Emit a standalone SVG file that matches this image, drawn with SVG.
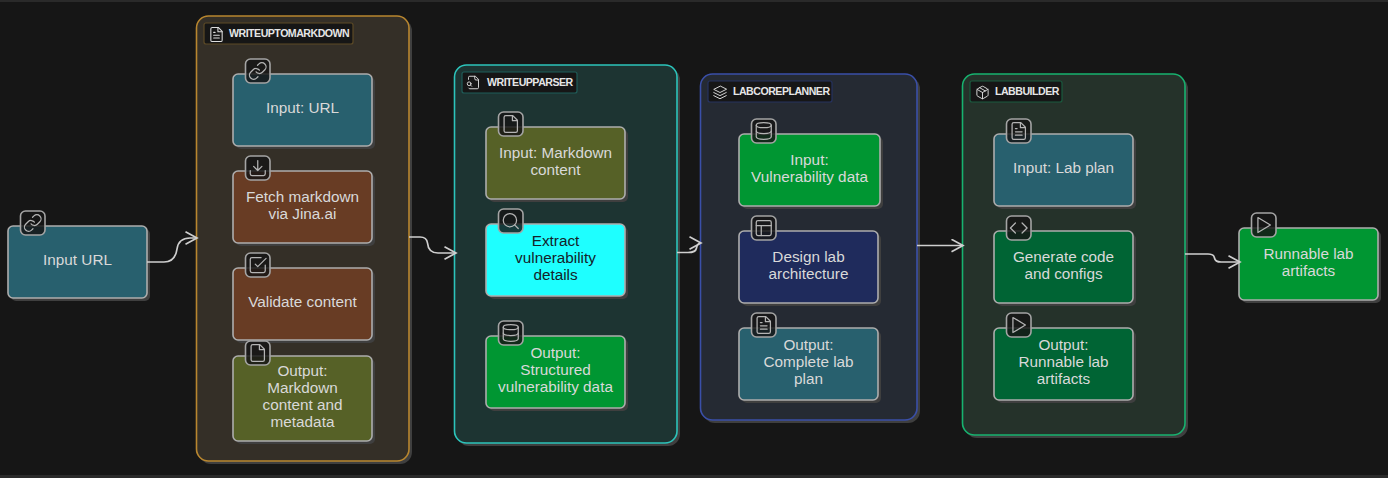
<svg xmlns="http://www.w3.org/2000/svg" xmlns:xlink="http://www.w3.org/1999/xlink" width="1388" height="478" viewBox="0 0 1388 478">
<style>
text{font-family:"Liberation Sans",Arial,sans-serif}
.t{font-size:15.3px;fill:#d9d9d9;text-anchor:middle}
.d{fill:#14232a}
.gl{font-size:10.6px;font-weight:700;fill:#e6e6e6;letter-spacing:-.5px}
.n{stroke:#adadad;stroke-width:1.6}
.s{fill:#3f3f3f}
.b{fill:#161616;fill-opacity:.84;stroke:#a4a4a4;stroke-width:1.6}
.i{fill:none;stroke:#b4b4b4;stroke-width:1.5;stroke-linecap:round;stroke-linejoin:round}
.gi{fill:none;stroke:#dedede;stroke-width:1.5;stroke-linecap:round;stroke-linejoin:round}
.c{fill:none;stroke:#cfcfcf;stroke-width:1.7}
.teal{fill:#28606e}.brown{fill:#683c24}.olive{fill:#566127}.cyan{fill:#1effff}.green{fill:#009632}.navy{fill:#1f2b5c}.dg{fill:#006434}
</style>
<defs>
<marker id="arrow" viewBox="0 0 14 14" refX="12.5" refY="7" markerWidth="14" markerHeight="14" markerUnits="userSpaceOnUse" orient="auto"><path d="M1 .8L12.5 7L1 13.2" fill="none" stroke="#cfcfcf" stroke-width="1.7"/></marker>
<symbol id="link" viewBox="0 0 24 24"><path d="M10 13a5 5 0 0 0 7.54.54l3-3a5 5 0 0 0-7.07-7.07l-1.72 1.71"/><path d="M14 11a5 5 0 0 0-7.54-.54l-3 3a5 5 0 0 0 7.07 7.07l1.71-1.71"/></symbol>
<symbol id="download" viewBox="0 0 24 24"><path d="M21 15v4a2 2 0 0 1-2 2H5a2 2 0 0 1-2-2v-4"/><path d="M7 10l5 5 5-5M12 15V3"/></symbol>
<symbol id="check" viewBox="0 0 24 24"><path d="M9 11l3 3L22 4"/><path d="M21 12v7a2 2 0 0 1-2 2H5a2 2 0 0 1-2-2V5a2 2 0 0 1 2-2h11"/></symbol>
<symbol id="file" viewBox="0 0 24 24"><path d="M14.5 2H6a2 2 0 0 0-2 2v16a2 2 0 0 0 2 2h12a2 2 0 0 0 2-2V7.500L14.500 2z"/><path d="M14 2v6h6"/></symbol>
<symbol id="filetext" viewBox="0 0 24 24"><path d="M14.5 2H6a2 2 0 0 0-2 2v16a2 2 0 0 0 2 2h12a2 2 0 0 0 2-2V7.500L14.500 2z"/><path d="M14 2v6h6M16 13H8M16 17H8M10 9H8"/></symbol>
<symbol id="search" viewBox="0 0 24 24"><circle cx="11" cy="11" r="8"/><path d="M21 21l-4.350-4.350"/></symbol>
<symbol id="db" viewBox="0 0 24 24"><ellipse cx="12" cy="5" rx="9" ry="3"/><path d="M21 12c0 1.660-4 3-9 3s-9-1.340-9-3"/><path d="M3 5v14c0 1.660 4 3 9 3s9-1.340 9-3V5"/></symbol>
<symbol id="layout" viewBox="0 0 24 24"><rect x="3" y="3" width="18" height="18" rx="2"/><path d="M3 9h18M9 21V9"/></symbol>
<symbol id="code" viewBox="0 0 24 24"><path d="M16 18l6-6-6-6M8 6l-6 6 6 6"/></symbol>
<symbol id="play" viewBox="0 0 24 24"><path d="M5 3l15 9-15 9z"/></symbol>
<symbol id="layers" viewBox="0 0 24 24"><path d="M12 2L2 7l10 5 10-5zM2 17l10 5 10-5M2 12l10 5 10-5"/></symbol>
<symbol id="box" viewBox="0 0 24 24"><path d="M21 8a2 2 0 0 0-1-1.730l-7-4a2 2 0 0 0-2 0l-7 4A2 2 0 0 0 3 8v8a2 2 0 0 0 1 1.730l7 4a2 2 0 0 0 2 0l7-4A2 2 0 0 0 21 16Z"/><path d="M3.300 7L12 12l8.700-5M12 22V12M7.500 4.300l9 5.200"/></symbol>
<symbol id="filesearch" viewBox="0 0 24 24"><path d="M14 2v4a2 2 0 0 0 2 2h4"/><path d="M4.300 21a2 2 0 0 0 1.700 1H18a2 2 0 0 0 2-2V7l-5-5H6a2 2 0 0 0-2 2v3"/><path d="M9 18l-1.500-1.500"/><circle cx="5" cy="14" r="3"/></symbol>
</defs>

<rect width="1388" height="478" fill="#161616"/>
<rect width="1388" height="2" fill="#2a2a2a"/>
<rect y="475" width="1388" height="3" fill="#2a2a2a"/>

<g id="group-writeuptomarkdown">
<rect class="s" x="199" y="19" width="213" height="445" rx="12"/>
<rect x="196.500" y="16" width="212.500" height="445" rx="12" fill="#342f27" stroke="#b8862f" stroke-width="1.6"/>
<rect x="204" y="23" width="149" height="21" rx="2" fill="#161616" stroke="#5c4a26" stroke-width="1.2"/>
<use href="#filetext" x="208" y="26" width="17" height="17" class="gi"/>
<text class="gl" x="229" y="37">WRITEUPTOMARKDOWN</text>
</g>
<g id="group-writeupparser">
<rect class="s" x="457" y="68" width="223" height="378" rx="12"/>
<rect x="454.500" y="65" width="222.500" height="378" rx="12" fill="#1d3432" stroke="#2cc4bb" stroke-width="1.6"/>
<rect x="462" y="72" width="115" height="21" rx="2" fill="#161616" stroke="#1f5c58" stroke-width="1.2"/>
<use href="#filesearch" x="466" y="75" width="15" height="15" class="gi"/>
<text class="gl" x="487" y="86">WRITEUPPARSER</text>
</g>
<g id="group-labcoreplanner">
<rect class="s" x="703" y="77" width="217" height="346" rx="12"/>
<rect x="700.500" y="74" width="216.500" height="346" rx="12" fill="#252a33" stroke="#3a4fa8" stroke-width="1.6"/>
<rect x="708" y="81" width="124" height="21" rx="2" fill="#161616" stroke="#26325f" stroke-width="1.2"/>
<use href="#layers" x="712.500" y="85" width="15" height="15" class="gi"/>
<text class="gl" x="733" y="95">LABCOREPLANNER</text>
</g>
<g id="group-labbuilder">
<rect class="s" x="965" y="77" width="223" height="361" rx="12"/>
<rect x="962.500" y="74" width="222.500" height="361" rx="12" fill="#25322a" stroke="#17b26f" stroke-width="1.6"/>
<rect x="970" y="81" width="92" height="21" rx="2" fill="#161616" stroke="#1a5a3e" stroke-width="1.2"/>
<use href="#box" x="975" y="85" width="15" height="15" class="gi"/>
<text class="gl" x="995" y="95">LABBUILDER</text>
</g>

<g id="input-url"><rect class="s" x="11" y="229" width="139" height="72" rx="5"/><rect class="n teal" x="8" y="226" width="139" height="72" rx="5"/><rect class="b" x="20.500" y="211" width="24.500" height="24" rx="5"/><use href="#link" x="22.750" y="213" width="20" height="20" class="i"/><text class="t" x="77.500" y="265">Input URL</text></g>

<g id="input-url-2"><rect class="s" x="236" y="77" width="139" height="72" rx="5"/><rect class="n teal" x="233" y="74" width="139" height="72" rx="5"/><rect class="b" x="245.500" y="59" width="24.500" height="24" rx="5"/><use href="#link" x="247.750" y="61" width="20" height="20" class="i"/><text class="t" x="302.500" y="113">Input: URL</text></g>
<g id="fetch-markdown"><rect class="s" x="236" y="174" width="139" height="72" rx="5"/><rect class="n brown" x="233" y="171" width="139" height="72" rx="5"/><rect class="b" x="245.500" y="156" width="24.500" height="24" rx="5"/><use href="#download" x="247.750" y="158" width="20" height="20" class="i"/><text class="t" x="302.500" y="202">Fetch markdown</text><text class="t" x="302.500" y="219">via Jina.ai</text></g>
<g id="validate-content"><rect class="s" x="236" y="271" width="139" height="72" rx="5"/><rect class="n brown" x="233" y="268" width="139" height="72" rx="5"/><rect class="b" x="245.500" y="253" width="24.500" height="24" rx="5"/><use href="#check" x="247.750" y="255" width="20" height="20" class="i"/><text class="t" x="302.500" y="307">Validate content</text></g>
<g id="output-markdown"><rect class="s" x="236" y="359" width="139" height="85" rx="5"/><rect class="n olive" x="233" y="356" width="139" height="85" rx="5"/><rect class="b" x="245.500" y="341" width="24.500" height="24" rx="5"/><use href="#file" x="247.750" y="343" width="20" height="20" class="i"/><text class="t" x="302.500" y="376">Output:</text><text class="t" x="302.500" y="393">Markdown</text><text class="t" x="302.500" y="410">content and</text><text class="t" x="302.500" y="427">metadata</text></g>

<g id="input-markdown"><rect class="s" x="489" y="130" width="139" height="72" rx="5"/><rect class="n olive" x="486" y="127" width="139" height="72" rx="5"/><rect class="b" x="498.500" y="112" width="24.500" height="24" rx="5"/><use href="#file" x="500.750" y="114" width="20" height="20" class="i"/><text class="t" x="555.500" y="158">Input: Markdown</text><text class="t" x="555.500" y="175">content</text></g>
<g id="extract-details"><rect class="s" x="489" y="227" width="139" height="72" rx="5"/><rect class="n cyan" x="486" y="224" width="139" height="72" rx="5"/><rect class="b" x="498.500" y="209" width="24.500" height="24" rx="5"/><use href="#search" x="500.750" y="211" width="20" height="20" class="i"/><text class="t d" x="555.500" y="246">Extract</text><text class="t d" x="555.500" y="263">vulnerability</text><text class="t d" x="555.500" y="280">details</text></g>
<g id="output-structured"><rect class="s" x="489" y="339" width="139" height="72" rx="5"/><rect class="n green" x="486" y="336" width="139" height="72" rx="5"/><rect class="b" x="498.500" y="321" width="24.500" height="24" rx="5"/><use href="#db" x="500.750" y="323" width="20" height="20" class="i"/><text class="t" x="555.500" y="358">Output:</text><text class="t" x="555.500" y="375">Structured</text><text class="t" x="555.500" y="392">vulnerability data</text></g>

<g id="input-vulnerability"><rect class="s" x="742" y="137" width="141" height="72" rx="5"/><rect class="n green" x="739" y="134" width="141" height="72" rx="5"/><rect class="b" x="751.500" y="119" width="24.500" height="24" rx="5"/><use href="#db" x="753.750" y="121" width="20" height="20" class="i"/><text class="t" x="809.500" y="165">Input:</text><text class="t" x="809.500" y="182">Vulnerability data</text></g>
<g id="design-architecture"><rect class="s" x="742" y="234" width="139" height="72" rx="5"/><rect class="n navy" x="739" y="231" width="139" height="72" rx="5"/><rect class="b" x="751.500" y="216" width="24.500" height="24" rx="5"/><use href="#layout" x="753.750" y="218" width="20" height="20" class="i"/><text class="t" x="808.500" y="262">Design lab</text><text class="t" x="808.500" y="279">architecture</text></g>
<g id="output-plan"><rect class="s" x="742" y="331" width="139" height="72" rx="5"/><rect class="n teal" x="739" y="328" width="139" height="72" rx="5"/><rect class="b" x="751.500" y="313" width="24.500" height="24" rx="5"/><use href="#filetext" x="753.750" y="315" width="20" height="20" class="i"/><text class="t" x="808.500" y="350">Output:</text><text class="t" x="808.500" y="367">Complete lab</text><text class="t" x="808.500" y="384">plan</text></g>

<g id="input-labplan"><rect class="s" x="997" y="137" width="139" height="72" rx="5"/><rect class="n teal" x="994" y="134" width="139" height="72" rx="5"/><rect class="b" x="1006.500" y="119" width="24.500" height="24" rx="5"/><use href="#filetext" x="1008.750" y="121" width="20" height="20" class="i"/><text class="t" x="1063.500" y="173">Input: Lab plan</text></g>
<g id="generate-code"><rect class="s" x="997" y="234" width="139" height="72" rx="5"/><rect class="n dg" x="994" y="231" width="139" height="72" rx="5"/><rect class="b" x="1006.500" y="216" width="24.500" height="24" rx="5"/><use href="#code" x="1008.750" y="218" width="20" height="20" class="i"/><text class="t" x="1063.500" y="262">Generate code</text><text class="t" x="1063.500" y="279">and configs</text></g>
<g id="output-artifacts"><rect class="s" x="997" y="331" width="139" height="72" rx="5"/><rect class="n dg" x="994" y="328" width="139" height="72" rx="5"/><rect class="b" x="1006.500" y="313" width="24.500" height="24" rx="5"/><use href="#play" x="1008.750" y="315" width="20" height="20" class="i"/><text class="t" x="1063.500" y="350">Output:</text><text class="t" x="1063.500" y="367">Runnable lab</text><text class="t" x="1063.500" y="384">artifacts</text></g>

<g id="runnable-artifacts"><rect class="s" x="1242" y="231" width="139" height="72" rx="5"/><rect class="n green" x="1239" y="228" width="139" height="72" rx="5"/><rect class="b" x="1251.500" y="213" width="24.500" height="24" rx="5"/><use href="#play" x="1253.750" y="215" width="20" height="20" class="i"/><text class="t" x="1308.500" y="259">Runnable lab</text><text class="t" x="1308.500" y="276">artifacts</text></g>

<g id="connectors">
<path class="c" marker-end="url(#arrow)" d="M147 262H164C173 262 176 256 177 249C178 242 182 238 190 238H197"/>
<path class="c" marker-end="url(#arrow)" d="M409 237H420C425 237 427 239 427.500 243C428 249 431 253 438 253H456"/>
<path class="c" marker-end="url(#arrow)" d="M677 252.500H688C693 252.500 696 251 696.500 248C697 245 698 243 701 243"/>
<path class="c" marker-end="url(#arrow)" d="M917 245.500H963"/>
<path class="c" marker-end="url(#arrow)" d="M1185 254H1208C1212 254 1214 255 1214.500 258C1215 261 1217 262 1221 262H1240"/>
</g>
</svg>
